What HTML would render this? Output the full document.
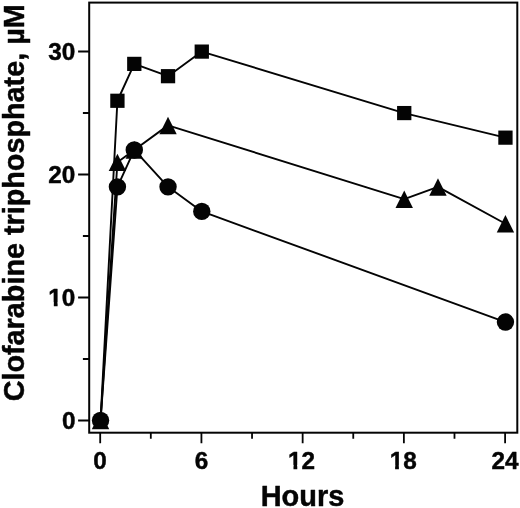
<!DOCTYPE html><html><head><meta charset="utf-8"><title>Clofarabine triphosphate</title>
<style>html,body{margin:0;padding:0;background:#fff}svg{display:block}text{font-family:"Liberation Sans",sans-serif;font-weight:bold;fill:#040404;stroke:#040404;stroke-width:.45px;stroke-linejoin:round}</style></head><body>
<svg width="520" height="508" viewBox="0 0 520 508">
<rect width="520" height="508" fill="#fff"/>
<rect x="89.2" y="2.6" width="428.10" height="430.10" fill="none" stroke="#040404" stroke-width="2"/>
<path d="M100.20 432.7v10.5 M150.81 432.7v6 M201.43 432.7v10.5 M252.04 432.7v6 M302.65 432.7v10.5 M353.26 432.7v6 M403.88 432.7v10.5 M454.49 432.7v6 M505.10 432.7v10.5" stroke="#040404" stroke-width="1.8" fill="none"/>
<path d="M89.2 420.40h-11.1 M89.2 358.93h-6.3 M89.2 297.47h-11.1 M89.2 236.00h-6.3 M89.2 174.53h-11.1 M89.2 113.07h-6.3 M89.2 51.60h-11.1" stroke="#040404" stroke-width="2" fill="none"/>
<polyline points="100.55,420.40 117.42,100.77 134.29,63.89 168.03,76.19 201.78,51.60 404.23,113.07 505.45,137.65" fill="none" stroke="#040404" stroke-width="1.9" stroke-linejoin="round"/>
<polyline points="100.55,420.40 117.42,162.24 134.29,149.95 168.03,125.36 404.23,199.12 437.97,186.83 505.45,223.71" fill="none" stroke="#040404" stroke-width="1.9" stroke-linejoin="round"/>
<polyline points="100.55,420.40 117.42,186.83 134.29,149.95 168.03,186.83 201.78,211.41 505.45,322.05" fill="none" stroke="#040404" stroke-width="1.9" stroke-linejoin="round"/>
<rect x="110.27" y="93.67" width="14.3" height="14.2" fill="#040404"/>
<rect x="127.14" y="56.79" width="14.3" height="14.2" fill="#040404"/>
<rect x="160.88" y="69.09" width="14.3" height="14.2" fill="#040404"/>
<rect x="194.62" y="44.50" width="14.3" height="14.2" fill="#040404"/>
<rect x="397.08" y="105.97" width="14.3" height="14.2" fill="#040404"/>
<rect x="498.30" y="130.55" width="14.3" height="14.2" fill="#040404"/>
<polygon points="100.55,411.80 109.25,429.25 91.85,429.25" fill="#040404"/>
<polygon points="117.42,153.64 126.12,171.09 108.72,171.09" fill="#040404"/>
<polygon points="134.29,141.35 142.99,158.80 125.59,158.80" fill="#040404"/>
<polygon points="168.03,116.76 176.73,134.21 159.33,134.21" fill="#040404"/>
<polygon points="404.23,190.52 412.93,207.97 395.53,207.97" fill="#040404"/>
<polygon points="437.97,178.23 446.67,195.68 429.27,195.68" fill="#040404"/>
<polygon points="505.45,215.11 514.15,232.56 496.75,232.56" fill="#040404"/>
<circle cx="100.55" cy="420.40" r="8.7" fill="#040404"/>
<circle cx="117.42" cy="186.83" r="8.7" fill="#040404"/>
<circle cx="134.29" cy="149.95" r="8.7" fill="#040404"/>
<circle cx="168.03" cy="186.83" r="8.7" fill="#040404"/>
<circle cx="201.78" cy="211.41" r="8.7" fill="#040404"/>
<circle cx="505.45" cy="322.05" r="8.7" fill="#040404"/>
<text x="75.4" y="428.85" font-size="24.3" text-anchor="end">0</text>
<text x="75.4" y="305.92" font-size="24.3" text-anchor="end">10</text>
<rect x="48.88" y="302.31" width="4.94" height="5.70" fill="#fff"/><rect x="57.60" y="302.31" width="4.63" height="5.70" fill="#fff"/>
<text x="75.4" y="182.98" font-size="24.3" text-anchor="end">20</text>
<text x="75.4" y="60.05" font-size="24.3" text-anchor="end">30</text>
<text x="100.00" y="468.5" font-size="24.3" text-anchor="middle">0</text>
<text x="201.43" y="468.5" font-size="24.3" text-anchor="middle">6</text>
<text x="301.55" y="468.5" font-size="24.3" text-anchor="middle">12</text>
<rect x="288.54" y="464.90" width="4.94" height="5.70" fill="#fff"/><rect x="297.27" y="464.90" width="4.63" height="5.70" fill="#fff"/>
<text x="403.18" y="468.5" font-size="24.3" text-anchor="middle">18</text>
<rect x="390.17" y="464.90" width="4.94" height="5.70" fill="#fff"/><rect x="398.89" y="464.90" width="4.63" height="5.70" fill="#fff"/>
<text x="505.10" y="468.5" font-size="24.3" text-anchor="middle">24</text>
<text x="302.5" y="505.7" font-size="28.7" text-anchor="middle" textLength="83.6" lengthAdjust="spacingAndGlyphs">Hours</text>
<text transform="translate(24 401.3) rotate(-90)" font-size="28.7" textLength="397" lengthAdjust="spacingAndGlyphs">Clofarabine triphosphate, µM</text>
</svg></body></html>
